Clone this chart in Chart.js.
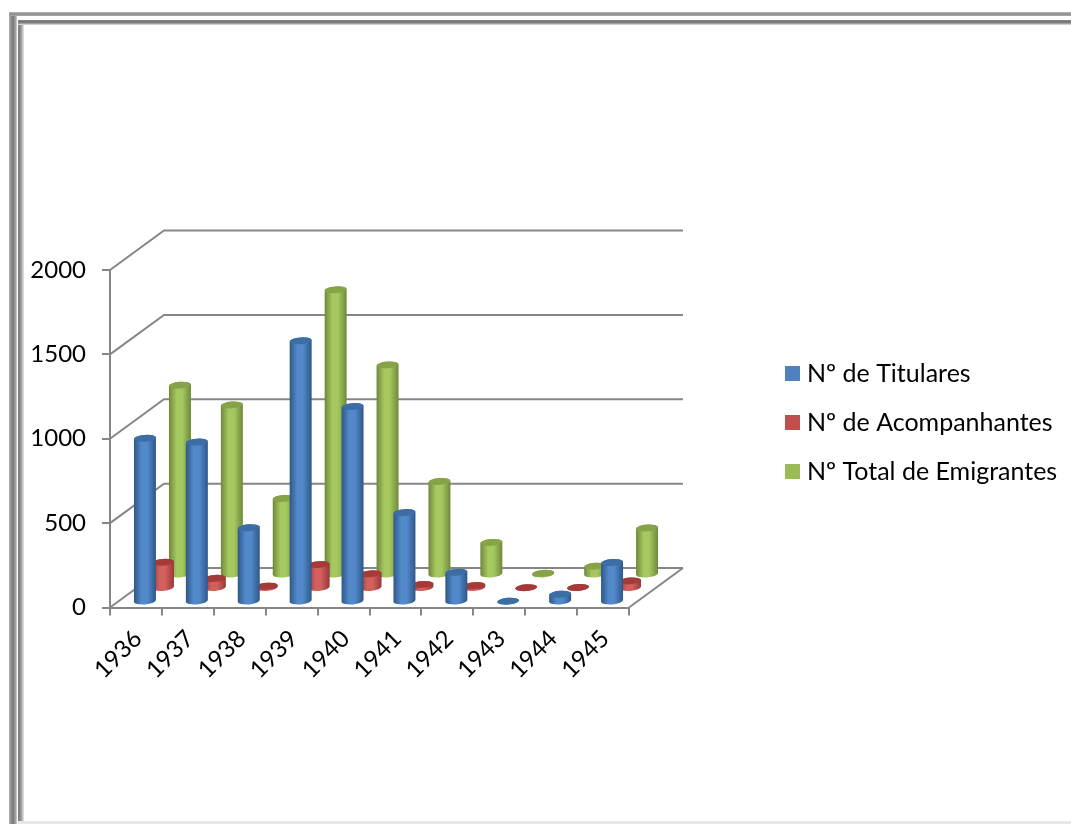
<!DOCTYPE html>
<html><head><meta charset="utf-8">
<style>
html,body{margin:0;padding:0;background:#fff;overflow:hidden}
#wrap{position:relative;width:1071px;height:824px;overflow:hidden}
.b{position:absolute}
canvas{position:absolute;left:0;top:0}
</style>
<script src="https://cdn.jsdelivr.net/npm/chart.js@4"></script>
</head><body>
<div id="wrap">
<div class="b" style="left:9px;top:12px;width:8px;height:812px;background:linear-gradient(90deg,#b4b4b4,#8a8a8a 30%,#7c7c7c 55%,#a8a8a8 85%,#d8d8d8)"></div>
<div class="b" style="left:18px;top:20px;width:6px;height:804px;background:linear-gradient(90deg,#7a7a7a,#8e8e8e 40%,#c4c4c4 80%,#f0f0f0)"></div>
<div class="b" style="left:9px;top:12px;right:0;height:4px;background:linear-gradient(180deg,#b8b8b8,#8a8a8a 50%,#a4a4a4 90%,#dcdcdc)"></div>
<div class="b" style="left:18px;top:20px;right:0;height:5px;background:linear-gradient(180deg,#8a8a8a,#707070 40%,#b0b0b0 80%,#f0f0f0)"></div>
<div class="b" style="left:18px;top:821px;right:0;height:3px;background:#e8e8e8"></div>
<canvas id="c" width="1071" height="824"></canvas>
</div>
<script>
const years = ['1936','1937','1938','1939','1940','1941','1942','1943','1944','1945'];
const titulares = [970,948,440,1548,1158,530,176,5,46,234];
const acompanhantes = [155,60,14,142,87,24,17,5,6,45];
const totalEmigrantes = [1125,1008,454,1690,1245,554,193,10,52,279];
const seriesNames = ['Nº de Titulares','Nº de Acompanhantes','Nº Total de Emigrantes'];
const FONT = 'Lato, Carlito, sans-serif';
const GREY = '#868686';
const DEPTH = {x:54, y:-39.5};
const SERIES_SHIFT = [{x:9,y:-5.5},{x:27,y:-19},{x:44,y:-32.5}];
const SHADES = [
  {edge:'#2f5788',mid:'#5289cb',top:'#3c6da3'},
  {edge:'#97383a',mid:'#d2605c',top:'#a53b38'},
  {edge:'#6f883a',mid:'#a5c95f',top:'#86a348'}
];

class CylinderController extends Chart.BarController {
  draw(){
    const ctx = this.chart.ctx, meta = this._cachedMeta;
    const shift = SERIES_SHIFT[this.index], shade = SHADES[this.index];
    meta.data.forEach(el => {
      const cx = el.x + shift.x, rx = el.width/2, ry = 3.4, tilt = -0.08;
      const ty = el.y + shift.y, by = el.base + shift.y;
      const g = ctx.createLinearGradient(cx-rx,0,cx+rx,0);
      g.addColorStop(0,shade.edge);
      g.addColorStop(0.35,shade.mid);
      g.addColorStop(0.6,shade.mid);
      g.addColorStop(1,shade.edge);
      ctx.save();
      ctx.beginPath();
      ctx.ellipse(cx,by,rx,ry,tilt,0,Math.PI);
      ctx.ellipse(cx,ty,rx,ry,tilt,Math.PI,Math.PI*2);
      ctx.closePath();
      ctx.fillStyle = g;
      ctx.fill();
      ctx.beginPath();
      ctx.ellipse(cx,ty,rx,ry,tilt,0,Math.PI*2);
      ctx.fillStyle = shade.top;
      ctx.fill();
      ctx.restore();
    });
  }
}
CylinderController.id = 'cylinder';
CylinderController.defaults = Chart.BarController.defaults;
CylinderController.overrides = Chart.BarController.overrides;
Chart.register(CylinderController);

const walls = {
  id:'walls',
  beforeDatasetsDraw(chart){
    const {ctx,chartArea:a,scales:{y}} = chart;
    ctx.save();
    ctx.strokeStyle = GREY; ctx.lineWidth = 2;
    y.ticks.forEach(t => {
      const py = y.getPixelForValue(t.value);
      ctx.beginPath();
      ctx.moveTo(a.left,py);
      ctx.lineTo(a.left+DEPTH.x,py+DEPTH.y);
      ctx.lineTo(a.right+DEPTH.x,py+DEPTH.y);
      ctx.stroke();
    });
    const py0 = y.getPixelForValue(0);
    ctx.beginPath();
    ctx.moveTo(a.right,py0);
    ctx.lineTo(a.right+DEPTH.x,py0+DEPTH.y);
    ctx.stroke();
    ctx.restore();
  },
  afterLayout(chart){
    const l = chart.legend;
    const w = l.width, h = l.height;
    l.left = 766.5; l.right = l.left + w;
    l.top = 337; l.bottom = l.top + h;
  }
};

function swatch(color){
  const s = document.createElement('canvas');
  s.width = 15; s.height = 15;
  const c = s.getContext('2d');
  c.fillStyle = color; c.fillRect(0,0,15,15);
  return s;
}

const colors = ['#4f81bd','#c0504d','#9bbb59'];
const seriesValues = [titulares,acompanhantes,totalEmigrantes];

new Chart(document.getElementById('c'),{
  type:'cylinder',
  data:{
    labels:years,
    datasets:seriesValues.map((v,i)=>({label:seriesNames[i],data:v,backgroundColor:colors[i],clip:false}))
  },
  plugins:[walls],
  options:{
    responsive:false,
    animation:false,
    devicePixelRatio:1,
    grouped:false,
    categoryPercentage:1,
    barPercentage:0.425,
    layout:{padding:{left:0,top:270,right:442,bottom:0}},
    plugins:{
      title:{display:false},
      tooltip:{enabled:false},
      legend:{
        position:'chartArea',
        align:'start',
        labels:{
          color:'#000',
          font:{family:FONT,size:25},
          usePointStyle:true,
          pointStyleWidth:4,
          padding:24,
          generateLabels:c=>c.data.datasets.map((d,i)=>({
            text:d.label,datasetIndex:i,fontColor:'#000',
            fillStyle:d.backgroundColor,lineWidth:0,
            pointStyle:swatch(d.backgroundColor)
          }))
        }
      }
    },
    scales:{
      x:{
        afterFit(s){s.height=216.5;},
        grid:{drawOnChartArea:false,color:GREY,lineWidth:2,tickLength:8,offset:true},
        border:{color:GREY,width:2},
        ticks:{color:'#000',font:{family:FONT,size:24},maxRotation:45,minRotation:45,padding:9,labelOffset:2,autoSkip:false}
      },
      y:{
        min:0,max:2000,
        afterFit(s){s.width=110;},
        grid:{drawOnChartArea:false,color:GREY,lineWidth:2,tickLength:8},
        border:{color:GREY,width:2},
        ticks:{color:'#000',font:{family:FONT,size:24},stepSize:500,padding:16,callback:v=>String(v)}
      }
    }
  }
});
</script>
</body></html>
